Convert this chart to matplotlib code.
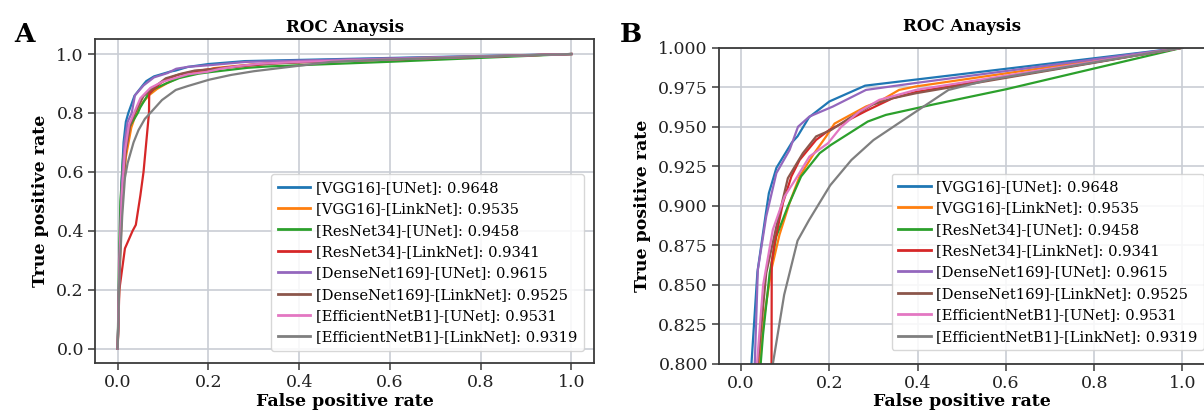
import matplotlib
matplotlib.use("Agg")
import matplotlib.pyplot as plt

# ---------------- data ----------------
model_labels = [
    "[VGG16]-[UNet]", "[VGG16]-[LinkNet]", "[ResNet34]-[UNet]", "[ResNet34]-[LinkNet]",
    "[DenseNet169]-[UNet]", "[DenseNet169]-[LinkNet]", "[EfficientNetB1]-[UNet]",
    "[EfficientNetB1]-[LinkNet]",
]
auc_values = [0.9648, 0.9535, 0.9458, 0.9341, 0.9615, 0.9525, 0.9531, 0.9319]

fpr_vgg16_unet = [0, 0.004, 0.008, 0.013, 0.018, 0.0235, 0.037, 0.056, 0.063, 0.080, 0.115, 0.128, 0.154, 0.200, 0.281, 1.0]
tpr_vgg16_unet = [0, 0.30, 0.55, 0.70, 0.77, 0.800, 0.858, 0.895, 0.908, 0.924, 0.940, 0.944, 0.956, 0.966, 0.976, 1.0]

fpr_vgg16_linknet = [0, 0.004, 0.010, 0.018, 0.030, 0.041, 0.0535, 0.0686, 0.087, 0.110, 0.1326, 0.163, 0.193, 0.2117, 0.230, 0.283, 0.313, 0.358, 0.396, 1.0]
tpr_vgg16_linknet = [0, 0.25, 0.50, 0.65, 0.75, 0.800, 0.832, 0.8596, 0.8817, 0.902, 0.9186, 0.9322, 0.944, 0.952, 0.9548, 0.9628, 0.966, 0.9733, 0.9755, 1.0]

fpr_resnet34_unet = [0, 0.003, 0.006, 0.012, 0.025, 0.0444, 0.0497, 0.0648, 0.0798, 0.106, 0.136, 0.178, 0.204, 0.287, 0.328, 0.434, 0.600, 1.0]
tpr_resnet34_unet = [0, 0.30, 0.50, 0.65, 0.75, 0.800, 0.8185, 0.8575, 0.8807, 0.8996, 0.9186, 0.9333, 0.9386, 0.9533, 0.9575, 0.964, 0.9737, 1.0]

fpr_resnet34_linknet = [0, 0.0037, 0.016, 0.033, 0.040, 0.045, 0.050, 0.057, 0.063, 0.069, 0.0695, 0.076, 0.095, 0.114, 0.1326, 0.170, 0.200, 0.283, 0.343, 0.396, 1.0]
tpr_resnet34_linknet = [0, 0.20, 0.34, 0.40, 0.42, 0.47, 0.52, 0.60, 0.70, 0.80, 0.864, 0.8765, 0.902, 0.9186, 0.929, 0.9417, 0.948, 0.960, 0.968, 0.972, 1.0]

fpr_densenet169_unet = [0, 0.004, 0.009, 0.015, 0.022, 0.031, 0.038, 0.057, 0.080, 0.110, 0.129, 0.155, 0.208, 0.283, 0.396, 1.0]
tpr_densenet169_unet = [0, 0.30, 0.55, 0.70, 0.77, 0.800, 0.8596, 0.8933, 0.9207, 0.9354, 0.950, 0.9565, 0.9628, 0.9733, 0.9777, 1.0]

fpr_densenet169_linknet = [0, 0.004, 0.010, 0.018, 0.028, 0.038, 0.057, 0.080, 0.106, 0.140, 0.170, 0.204, 0.2456, 0.298, 0.343, 0.396, 1.0]
tpr_densenet169_linknet = [0, 0.28, 0.52, 0.67, 0.76, 0.800, 0.8575, 0.887, 0.9175, 0.9333, 0.9439, 0.948, 0.9555, 0.964, 0.968, 0.9712, 1.0]

fpr_effb1_unet = [0, 0.004, 0.009, 0.016, 0.025, 0.036, 0.050, 0.072, 0.0987, 0.125, 0.155, 0.197, 0.227, 0.268, 0.313, 0.396, 1.0]
tpr_effb1_unet = [0, 0.30, 0.52, 0.67, 0.76, 0.800, 0.850, 0.885, 0.906, 0.9175, 0.9312, 0.9396, 0.950, 0.9596, 0.967, 0.9733, 1.0]

fpr_effb1_linknet = [0, 0.004, 0.010, 0.016, 0.022, 0.035, 0.046, 0.060, 0.072, 0.0976, 0.128, 0.154, 0.202, 0.250, 0.300, 0.377, 0.470, 0.560, 1.0]
tpr_effb1_linknet = [0, 0.25, 0.45, 0.58, 0.63, 0.70, 0.742, 0.78, 0.800, 0.8437, 0.878, 0.891, 0.913, 0.929, 0.9416, 0.956, 0.9733, 0.9796, 1.0]

fpr_all = [fpr_vgg16_unet, fpr_vgg16_linknet, fpr_resnet34_unet, fpr_resnet34_linknet,
           fpr_densenet169_unet, fpr_densenet169_linknet, fpr_effb1_unet, fpr_effb1_linknet]
tpr_all = [tpr_vgg16_unet, tpr_vgg16_linknet, tpr_resnet34_unet, tpr_resnet34_linknet,
           tpr_densenet169_unet, tpr_densenet169_linknet, tpr_effb1_unet, tpr_effb1_linknet]

colors = ["#1f77b4", "#ff7f0e", "#2ca02c", "#d62728", "#9467bd", "#8c564b", "#e377c2", "#7f7f7f"]

x_ticks = [0.0, 0.2, 0.4, 0.6, 0.8, 1.0]
yticks_a = [0.0, 0.2, 0.4, 0.6, 0.8, 1.0]
yticks_b = [0.800, 0.825, 0.850, 0.875, 0.900, 0.925, 0.950, 0.975, 1.000]

# ---------------- style ----------------
plt.rcParams["font.family"] = ["DejaVu Serif"]
grid_col = "#c9cdd4"
spine_col = "#3a3a3a"

fig = plt.figure(figsize=(12.04, 4.13), dpi=100)
W, H = 1204, 413

def px_axes(l, r, t, b):
    return [l / W, 1 - b / H, (r - l) / W, (b - t) / H]

ax_a = fig.add_axes(px_axes(95, 594, 39.3, 363.3))
ax_b = fig.add_axes(px_axes(719, 1204.5, 47.7, 364))

def style(ax):
    ax.set_facecolor("white")
    ax.grid(True, color=grid_col, linewidth=1.2)
    ax.set_axisbelow(True)
    for s in ax.spines.values():
        s.set_color(spine_col)
        s.set_linewidth(1.3)
    ax.tick_params(axis="both", direction="out", length=5, width=1.1,
                   color=spine_col, labelsize=12.5, labelcolor="#222222", pad=3)

for ax in (ax_a, ax_b):
    style(ax)
    for fp, tp, lab, auc, c in zip(fpr_all, tpr_all, model_labels, auc_values, colors):
        ax.plot(fp, tp, color=c, linewidth=1.6, label=f"{lab}: {auc:.4f}")
    ax.set_xticks(x_ticks)
    ax.set_xlabel("False positive rate", fontsize=12.5, fontweight="bold", labelpad=1)
    ax.set_ylabel("True positive rate", fontsize=12.5, fontweight="bold", labelpad=5)

ax_a.set_xlim(-0.05, 1.05)
ax_a.set_ylim(-0.05, 1.05)
ax_a.set_yticks(yticks_a)
ax_a.set_xticklabels([f"{v:.1f}" for v in x_ticks])
ax_a.set_yticklabels([f"{v:.1f}" for v in yticks_a])
ax_a.set_title("ROC Anaysis", fontsize=12, fontweight="bold", pad=5)

ax_b.set_xlim(-0.05, 1.05)
ax_b.set_ylim(0.8, 1.0)
ax_b.set_yticks(yticks_b)
ax_b.set_xticklabels([f"{v:.1f}" for v in x_ticks])
ax_b.set_yticklabels([f"{v:.3f}" for v in yticks_b])
ax_b.set_title("ROC Anaysis", fontsize=12, fontweight="bold", pad=12)

leg_kw = dict(fontsize=10.6, frameon=True, fancybox=True, framealpha=0.85,
              edgecolor="#d0d0d0", labelspacing=0.5, handlelength=2.2,
              borderpad=0.45, handletextpad=0.4)
la = ax_a.legend(loc="lower right", bbox_to_anchor=(0.995, 0.015), **leg_kw)
lb = ax_b.legend(loc="lower right", bbox_to_anchor=(1.015, 0.02), **leg_kw)
for lg in (la, lb):
    for ln in lg.get_lines():
        ln.set_linewidth(2.0)

fig.text(24 / W, 1 - 35 / H, "A", fontsize=19, fontweight="bold", ha="center", va="center")
fig.text(631 / W, 1 - 35 / H, "B", fontsize=19, fontweight="bold", ha="center", va="center")

fig.savefig("out.png", dpi=100)
